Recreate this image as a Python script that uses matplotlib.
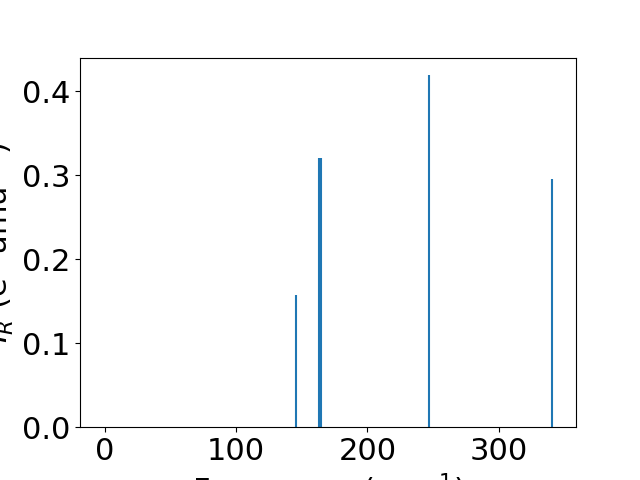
import matplotlib
matplotlib.use("Agg")
import matplotlib.pyplot as plt

plt.rcParams.update({"font.size": 22})

# IR-active modes: frequency (cm^-1) and intensity (e^2 amu^-1)
freqs = [0.0, 0.0, 0.0, 145.4, 163.5, 164.5, 246.7, 340.5]
intensities = [0.0, 0.0, 0.0, 0.157, 0.321, 0.321, 0.419, 0.296]

fig, ax = plt.subplots(figsize=(6.4, 4.8), dpi=100)
ax.vlines(freqs, 0, intensities, color="C0", linewidth=1.5)
ax.set_xlim(-19, 359)
ax.set_ylim(0, max(intensities) * 1.05)
ax.set_xlabel("Frequency (cm$^{-1}$)")
ax.set_ylabel("$I_R$ (e$^2$ amu$^{-1}$)")

fig.savefig("out.png", dpi=100)
plt.close()
